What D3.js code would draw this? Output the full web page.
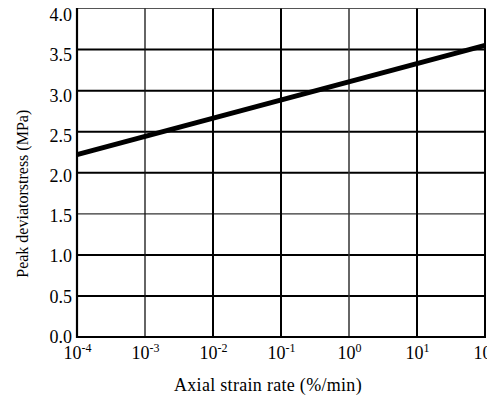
<!DOCTYPE html>
<html>
<head>
<meta charset="utf-8">
<script src="https://cdn.jsdelivr.net/npm/d3@7/dist/d3.min.js"></script>
<style>
  html, body { margin: 0; padding: 0; background: #fff; }
  svg { display: block; }
  text { font-family: "Liberation Serif", "Times New Roman", serif; fill: #000; }
</style>
</head>
<body>
<script>
// Peak deviator stress versus axial strain rate (log scale)
const rateExponents = [-4, -3, -2, -1, 0, 1, 2];
const stressTicks = [0.0, 0.5, 1.0, 1.5, 2.0, 2.5, 3.0, 3.5, 4.0];
const fitRates = [1e-4, 1e2];
const fitStress = [2.22, 3.55];

const W = 487, H = 398;
const plot = { left: 77, right: 485, top: 8.5, bottom: 337 };

const svg = d3.select("body").append("svg")
  .attr("width", W).attr("height", H);

const x = d3.scaleLog().domain([1e-4, 1e2]).range([plot.left, plot.right]);
const y = d3.scaleLinear().domain([0, 4]).range([plot.bottom, plot.top]);
// tick labels sit on a slightly tighter spacing than the grid
const yLabel = d3.scaleLinear().domain([0, 4]).range([336.5, 15]);

// horizontal grid
const hWidth = v => (v === 4 ? 1.2 : v === 1.5 ? 1.3 : 2);
const hColor = v => (v === 4 ? "#555" : v === 1.5 ? "#333" : "#000");
svg.append("g").selectAll("line").data(stressTicks.filter(v => v > 0)).join("line")
  .attr("x1", plot.left).attr("x2", plot.right)
  .attr("y1", d => y(d)).attr("y2", d => y(d))
  .attr("stroke", hColor).attr("stroke-width", hWidth);

// vertical grid
const vWidth = e => (e === -3 ? 1.3 : e === 0 ? 1.5 : 2);
const vColor = e => (e === -3 ? "#111" : e === 0 ? "#333" : "#000");
svg.append("g").selectAll("line").data(rateExponents.filter(e => e > -4)).join("line")
  .attr("x1", d => x(Math.pow(10, d))).attr("x2", d => x(Math.pow(10, d)))
  .attr("y1", plot.top).attr("y2", plot.bottom)
  .attr("stroke", vColor).attr("stroke-width", vWidth);

// axes lines
svg.append("line").attr("x1", plot.left).attr("x2", plot.left)
  .attr("y1", plot.top - 0.5).attr("y2", plot.bottom + 1)
  .attr("stroke", "#000").attr("stroke-width", 2.2);
svg.append("line").attr("x1", plot.left - 1).attr("x2", plot.right + 1)
  .attr("y1", plot.bottom).attr("y2", plot.bottom)
  .attr("stroke", "#000").attr("stroke-width", 2.2);

// y tick labels
const yAxis = d3.axisLeft(yLabel).tickValues(stressTicks)
  .tickFormat(d3.format(".1f")).tickSize(0).tickPadding(0);
const gy = svg.append("g").attr("transform", `translate(${plot.left - 5},0)`).call(yAxis);
gy.select(".domain").remove();
gy.selectAll("text").style("font-size", "18px")
  .style("font-family", '"Liberation Serif", serif');

// x tick labels with superscript exponents
const xAxis = d3.axisBottom(x).tickValues(rateExponents.map(e => Math.pow(10, e)))
  .tickFormat("").tickSize(0);
const gx = svg.append("g").attr("transform", `translate(0,${plot.bottom})`).call(xAxis);
gx.select(".domain").remove();
gx.selectAll(".tick").each(function(d) {
  const e = Math.round(Math.log10(d));
  const t = d3.select(this).select("text")
    .attr("y", 22).attr("dy", null)
    .style("font-size", "18px").style("font-family", '"Liberation Serif", serif')
    .attr("text-anchor", "middle");
  t.append("tspan").text("10");
  t.append("tspan").attr("dy", -7).style("font-size", "12px").text(String(e));
});

// fitted line
const line = d3.line().x(d => x(d[0])).y(d => y(d[1]));
svg.append("path")
  .datum(fitRates.map((r, i) => [r, fitStress[i]]))
  .attr("d", line)
  .attr("fill", "none").attr("stroke", "#000").attr("stroke-width", 5);

// axis titles
svg.append("text")
  .attr("x", (plot.left + plot.right) / 2 - 13).attr("y", 391)
  .attr("text-anchor", "middle").style("font-size", "18px")
  .style("letter-spacing", "0.3px")
  .text("Axial strain rate (%/min)");
svg.append("text")
  .attr("transform", `translate(28,${(plot.top + plot.bottom) / 2 + 21}) rotate(-90)`)
  .attr("text-anchor", "middle").style("font-size", "16px")
  .text("Peak deviatorstress (MPa)");
</script>
</body>
</html>
